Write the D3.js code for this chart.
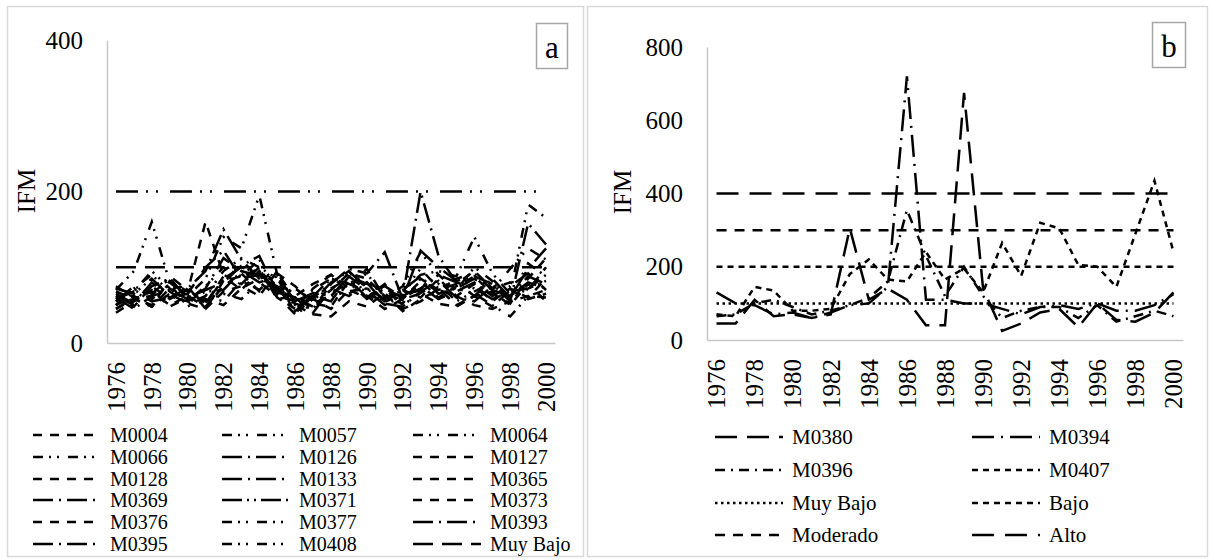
<!DOCTYPE html>
<head>
  <meta charset="utf-8" />
  <script src="https://d3js.org/d3.v7.min.js"></script>
  <style>
    body { margin: 0; background: #fff; }
    text { font-family: "Times New Roman", "Liberation Serif", serif; fill: #000; }
  </style>
</head>
<body>
<div id="chart"></div>
<script>

var FONT = '"Times New Roman", "Liberation Serif", serif';

// years on both x axes
var years = [1976,1977,1978,1979,1980,1981,1982,1983,1984,1985,1986,1987,1988,
             1989,1990,1991,1992,1993,1994,1995,1996,1997,1998,1999,2000];
var yearTicks = [1976,1978,1980,1982,1984,1986,1988,1990,1992,1994,1996,1998,2000];

// panel a series (IFM)
var m0004 = [62,48,75,58,70,52,88,70,95,60,45,72,90,65,80,55,70,60,85,62,78,55,72,60,85];
var m0057 = [50,68,95,72,55,75,100,88,110,70,52,45,78,95,62,58,75,120,90,70,100,82,60,105,88];
var m0064 = [70,95,160,80,62,85,140,125,195,90,55,70,85,75,92,60,68,98,72,85,92,70,98,125,110];
var m0066 = [55,70,58,78,48,62,55,82,70,92,60,48,65,80,58,72,50,66,78,55,68,80,58,72,90];
var m0126 = [65,52,80,60,72,95,150,110,85,75,42,62,55,88,70,50,62,75,58,68,80,62,75,92,70];
var m0127 = [75,60,50,82,68,160,90,78,100,62,55,48,70,92,85,62,58,82,60,75,88,65,52,85,112];
var m0128 = [45,58,68,50,62,48,75,92,68,82,40,58,45,70,60,78,45,55,72,50,62,48,70,58,65];
var m0133 = [60,45,62,70,58,52,85,100,92,70,60,40,72,62,80,52,48,68,82,60,55,75,62,88,78];
var m0365 = [50,62,48,65,52,45,68,75,62,95,50,38,35,55,48,66,42,58,70,62,50,45,55,62,60];
var m0369 = [55,75,65,85,60,70,80,102,115,65,72,55,80,95,72,58,70,88,65,72,85,70,62,80,72];
var m0371 = [72,65,85,62,55,68,70,95,80,88,55,62,85,78,68,75,60,72,90,80,72,58,68,72,82];
var m0373 = [40,55,70,48,60,58,50,72,85,92,75,52,48,82,62,45,58,65,52,48,62,68,50,78,55];
var m0376 = [68,58,48,72,75,45,82,88,98,58,62,78,90,72,98,60,52,85,70,78,95,72,80,70,100];
var m0377 = [50,72,90,68,52,62,95,112,100,85,48,58,72,85,60,55,68,90,95,88,140,92,65,183,165];
var m0393 = [62,50,75,85,58,72,112,95,88,68,55,66,62,88,78,72,60,200,115,80,62,85,60,98,125];
var m0395 = [58,68,55,60,65,100,122,85,90,72,50,60,78,98,92,120,58,122,100,82,88,78,55,158,130];
var m0408 = [45,60,62,88,70,55,65,58,80,62,38,52,62,68,72,55,62,70,82,72,65,50,35,62,70];

// panel b series (IFM)
var m0380 = [45,45,110,65,70,60,70,305,110,140,110,40,40,675,140,25,45,75,85,35,100,55,50,75,130];
var m0394 = [130,100,95,70,75,60,75,95,100,145,720,110,110,100,100,85,70,90,95,85,100,80,80,95,125];
var m0396 = [65,70,100,110,90,70,80,95,115,160,355,230,120,200,120,60,80,90,90,60,95,50,65,80,65];
var m0407 = [70,65,145,135,80,80,85,180,220,165,160,240,165,195,130,265,175,320,305,205,200,145,290,435,240];

// threshold levels
var levelNamesA = ["Muy Bajo", "Bajo"];
var levelValuesA = [100, 200];
var levelNamesB = ["Muy Bajo", "Bajo", "Moderado", "Alto"];
var levelValuesB = [100, 200, 300, 400];

var namesA = ["M0004","M0057","M0064","M0066","M0126","M0127","M0128","M0133","M0365",
              "M0369","M0371","M0373","M0376","M0377","M0393","M0395","M0408"];
var valuesA = [m0004,m0057,m0064,m0066,m0126,m0127,m0128,m0133,m0365,
               m0369,m0371,m0373,m0376,m0377,m0393,m0395,m0408];
var namesB = ["M0380","M0394","M0396","M0407"];
var valuesB = [m0380,m0394,m0396,m0407];

// dash patterns
var DASH = "9,8", DDD = "10,6,2,6,2,9", LDD = "20,6,2,6", LDDD = "20,5,2,5,2,5", LONG = "20,9";
var dashA = {
  "M0004": DASH, "M0057": DDD, "M0064": DDD, "M0066": DDD, "M0126": LDD, "M0127": DASH,
  "M0128": DASH, "M0133": LDD, "M0365": DASH, "M0369": LDD, "M0371": LDDD, "M0373": DASH,
  "M0376": DASH, "M0377": DDD, "M0393": LDD, "M0395": LDD, "M0408": DDD,
  "Muy Bajo": LONG, "Bajo": "22,8,2,8,2,12"
};
var dashB = {
  "M0380": "22,10", "M0394": "22,7,2,7", "M0396": "10,6,2,6", "M0407": "6,5",
  "Muy Bajo": "2.5,3.5", "Bajo": "6,5", "Moderado": "10,8", "Alto": "22,11"
};

var svg = d3.select("#chart")
  .append("svg")
  .attr("width", 1210)
  .attr("height", 560);

svg.append("rect").attr("width", 1210).attr("height", 560).attr("fill", "#fff");

function drawPanel(p) {
  var g = svg.append("g");

  // outer border
  g.append("rect")
    .attr("x", p.box[0]).attr("y", p.box[1])
    .attr("width", p.box[2]).attr("height", p.box[3])
    .attr("fill", "none").attr("stroke", "#d9d9d9").attr("stroke-width", 1.5);

  var x = d3.scalePoint().domain(years).range(p.xr).padding(0.5);
  var y = d3.scaleLinear().domain(p.yd).range(p.yr);

  // y axis
  var ya = g.append("g")
    .attr("transform", "translate(" + p.xr[0] + ",0)")
    .call(d3.axisLeft(y).tickValues(p.yticks).tickSize(0).tickPadding(p.ypad));
  ya.attr("font-family", null);
  ya.select(".domain").attr("stroke", "#c8c8c8").attr("stroke-width", 1.5);
  ya.selectAll("text").style("font-size", "25px").style("font-family", FONT);

  // x axis
  var xa = g.append("g")
    .attr("transform", "translate(0," + p.yr[0] + ")")
    .call(d3.axisBottom(x).tickValues(yearTicks).tickSize(0));
  xa.attr("font-family", null);
  xa.select(".domain").attr("stroke", "#c8c8c8").attr("stroke-width", 1.5);
  xa.selectAll("text")
    .attr("transform", "rotate(-90)")
    .attr("text-anchor", "end")
    .attr("x", -19).attr("y", 0).attr("dy", "0.33em")
    .style("font-size", "25px").style("font-family", FONT);

  // axis title
  g.append("text")
    .attr("transform", "translate(" + p.title[0] + "," + p.title[1] + ")rotate(-90)")
    .attr("text-anchor", "middle").attr("dy", "0.33em")
    .style("font-size", "25px").style("font-family", FONT)
    .text("IFM");

  var line = d3.line()
    .x(function(d) { return x(d[0]); })
    .y(function(d) { return y(d[1]); });

  // threshold lines
  p.levels.forEach(function(v, i) {
    g.append("path")
      .datum(years.map(function(yr) { return [yr, v]; }))
      .attr("d", line)
      .attr("fill", "none").attr("stroke", "#000").attr("stroke-width", 2.5)
      .attr("stroke-dasharray", p.dash[p.levelNames[i]]);
  });

  // series
  p.values.forEach(function(vals, i) {
    g.append("path")
      .datum(years.map(function(yr, j) { return [yr, vals[j]]; }))
      .attr("d", line)
      .attr("fill", "none").attr("stroke", "#000").attr("stroke-width", 2.5)
      .attr("stroke-dasharray", p.dash[p.names[i]]);
  });

  // letter box
  g.append("rect")
    .attr("x", p.tag[0]).attr("y", p.tag[1]).attr("width", p.tag[2]).attr("height", 45)
    .attr("fill", "#fff").attr("stroke", "#a6a6a6").attr("stroke-width", 1.5);
  g.append("text")
    .attr("x", p.tag[0] + p.tag[2] / 2).attr("y", p.tag[1] + 34)
    .attr("text-anchor", "middle")
    .style("font-size", "31px").style("font-family", FONT)
    .text(p.letter);

  // legend
  var leg = g.append("g").selectAll("g")
    .data(p.legend)
    .enter().append("g")
    .attr("transform", function(d, i) {
      return "translate(" + p.legX[i % p.cols] + "," + p.legY[Math.floor(i / p.cols)] + ")";
    });
  leg.append("line")
    .attr("x1", 0).attr("x2", p.legW).attr("y1", 0).attr("y2", 0)
    .attr("stroke", "#000").attr("stroke-width", 2.5)
    .attr("stroke-dasharray", function(d) { return p.dash[d]; });
  leg.append("text")
    .attr("x", p.legW + p.legGap).attr("dy", "0.33em")
    .style("font-size", p.legFont).style("font-family", FONT)
    .text(function(d) { return d; });
}

drawPanel({
  box: [7.5, 6.5, 576, 550],
  xr: [107, 555], yr: [343, 40], yd: [0, 400], yticks: [0, 200, 400], ypad: 24,
  title: [27, 191],
  levels: levelValuesA, levelNames: levelNamesA,
  values: valuesA, names: namesA, dash: dashA,
  tag: [536.5, 23.5, 31], letter: "a",
  legend: namesA.concat(["Muy Bajo"]), cols: 3, legFont: "20px",
  legX: [33, 222, 413], legY: [435, 457, 479, 500, 522, 544], legW: 68, legGap: 9
});

drawPanel({
  box: [587.5, 6.5, 620, 550],
  xr: [707, 1183], yr: [340, 47], yd: [0, 800], yticks: [0, 200, 400, 600, 800], ypad: 24,
  title: [623, 192],
  levels: levelValuesB, levelNames: levelNamesB,
  values: valuesB, names: namesB, dash: dashB,
  tag: [1152.5, 22.5, 33], letter: "b",
  legend: namesB.concat(levelNamesB), cols: 2, legFont: "21px",
  legX: [715, 972], legY: [437, 470, 503, 535], legW: 68, legGap: 9
});

</script>
</body>
</html>
